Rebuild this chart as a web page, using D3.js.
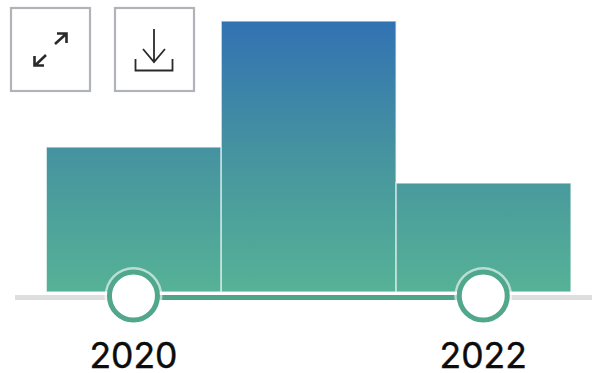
<!DOCTYPE html>
<html>
<head>
<meta charset="utf-8">
<script src="https://cdn.jsdelivr.net/npm/d3@7"></script>
<style>
html,body{margin:0;padding:0;background:#fff;overflow:hidden}
svg{display:block}
text{font-family:Inter,"Liberation Sans",sans-serif}
</style>
</head>
<body>
<svg id="c" width="592" height="373"></svg>
<script>
const years = [2020, 2021, 2022];
const values = [145, 271, 109];
const rangeLabels = [2020, 2022];
const svg = d3.select("#c");
const W = 592;
const x = d3.scaleBand().domain(years).range([46.3, 571]).padding(0);
const y = d3.scaleLinear().domain([0, 271]).range([292, 21]);
const defs = svg.append("defs");
const g = defs.append("linearGradient").attr("id","grad").attr("gradientUnits","userSpaceOnUse")
  .attr("x1",0).attr("x2",0).attr("y1",y(271)).attr("y2",y(0));
g.append("stop").attr("offset",0).attr("stop-color","#3272b3");
g.append("stop").attr("offset",0.5).attr("stop-color","#46949f");
g.append("stop").attr("offset",1).attr("stop-color","#56b296");

svg.selectAll("rect.bar").data(years).join("rect").attr("class","bar")
  .attr("x",d=>x(d)).attr("width",x.bandwidth())
  .attr("y",(d,i)=>y(values[i])).attr("height",(d,i)=>y(0)-y(values[i]))
  .attr("fill","url(#grad)").attr("stroke","#fff").attr("stroke-opacity",0.65).attr("stroke-width",1.4);

const trackY = 297.5;
const cx = d=>x(d)+x.bandwidth()/2;
svg.append("line").attr("x1",15).attr("x2",W).attr("y1",trackY).attr("y2",trackY)
  .attr("stroke","#dedede").attr("stroke-width",5);
svg.append("line").attr("x1",cx(rangeLabels[0])).attr("x2",cx(rangeLabels[1])).attr("y1",trackY).attr("y2",trackY)
  .attr("stroke","#4fa58a").attr("stroke-width",5);

const h = svg.selectAll("g.h").data(rangeLabels).join("g").attr("class","h")
  .attr("transform",d=>`translate(${cx(d)-0.3},296)`);
h.append("circle").attr("r",29).attr("fill","#fff").attr("fill-opacity",0.6);
h.append("circle").attr("r",24).attr("fill","#fff").attr("stroke","#50a78b").attr("stroke-width",5);
h.append("text").attr("y",71.5).attr("text-anchor","middle").attr("font-size",35.5).attr("fill","#0c0c0c")
  .attr("stroke","#0c0c0c").attr("stroke-width",0.4).attr("font-weight",400).text(d=>d);

function button(bx){
  return svg.append("rect").attr("x",bx).attr("y",8).attr("width",79).attr("height",83)
    .attr("fill","#fff").attr("stroke","#b1b3b8").attr("stroke-width",2.2);
}
button(11); button(115);
const ic = svg.append("g").attr("fill","none").attr("stroke","#2a2a2a").attr("stroke-width",2.6);
ic.append("path").attr("d","M55 44L66 34M57 33.5H66.5V43");
ic.append("path").attr("d","M46 55L35 65.5M34.5 56V65.5H44");
const id = svg.append("g").attr("fill","none").attr("stroke","#2a2a2a").attr("stroke-width",1.8);
id.append("path").attr("d","M154 29V62M143 49L154 62L165 49");
id.append("path").attr("d","M135.5 59V70.5H172.5V59");
</script>
</body>
</html>
